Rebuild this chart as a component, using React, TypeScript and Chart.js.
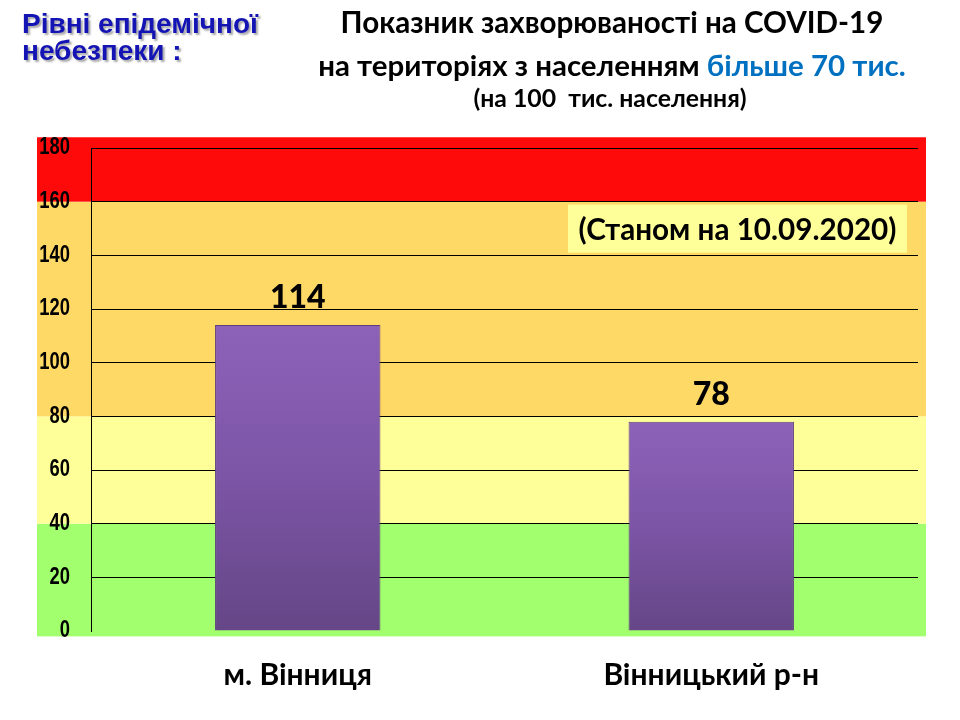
import { useEffect, useRef } from "react";
import { Chart, registerables } from "chart.js";

Chart.register(...registerables);

// ---- data ----
const categories = ["м. Вінниця", "Вінницький р-н"];
const incidence = [114, 78];
const yMin = 0;
const yMax = 180;
const yStep = 20;

// epidemic danger zones (value ranges) and colours
const zoneFrom = [-2, 40, 80, 160];
const zoneTo = [40, 80, 160, 184];
const zoneColors = ["#a2ff6e", "#ffff9a", "#ffd966", "#ff0a0a"];

const legendLines = ["Рівні епідемічної", "небезпеки :"];
const titleLine1 = "Показник захворюваності на COVID-19";
const titleLine2a = "на територіях з населенням ";
const titleLine2b = "більше 70 тис.";
const titleLine3 = "(на 100  тис. населення)";
const dateNote = "(Станом на 10.09.2020)";

const SANS = "Lato, 'Open Sans', 'Noto Sans', sans-serif";
const ARIAL = "'Liberation Sans', Arial, sans-serif";

function fitFont(ctx: CanvasRenderingContext2D, text: string, family: string, target: number) {
  ctx.font = `bold 100px ${family}`;
  const w = ctx.measureText(text).width;
  const size = (100 * target) / w;
  ctx.font = `bold ${size}px ${family}`;
  return size;
}

const zonesPlugin = {
  id: "zones",
  beforeDraw(chart: any) {
    const { ctx, chartArea, scales } = chart;
    const y = scales.y;
    ctx.save();
    ctx.fillStyle = "#ffffff";
    ctx.fillRect(0, 0, chart.width, chart.height);
    const left = chartArea.left - 54;
    const right = chartArea.right + 8;
    zoneFrom.forEach((f, i) => {
      const top = y.getPixelForValue(zoneTo[i]);
      const bot = y.getPixelForValue(f);
      ctx.fillStyle = zoneColors[i];
      ctx.fillRect(left, top, right - left, bot - top);
    });
    ctx.restore();
  },
};

const labelsPlugin = {
  id: "labels",
  afterDatasetsDraw(chart: any) {
    const { ctx, chartArea, scales } = chart;
    const y = scales.y;
    ctx.save();

    // y tick labels (condensed bold, like Arial Narrow)
    ctx.fillStyle = "#000";
    ctx.textAlign = "right";
    ctx.textBaseline = "middle";
    ctx.font = `bold 23px ${ARIAL}`;
    y.ticks.forEach((t: any) => {
      const py = y.getPixelForValue(t.value);
      ctx.save();
      ctx.translate(chartArea.left - 21, py);
      ctx.scale(0.8, 1);
      ctx.fillText(String(t.value), 0, 0);
      ctx.restore();
    });

    // value labels
    const meta = chart.getDatasetMeta(0);
    ctx.fillStyle = "#000";
    ctx.textAlign = "center";
    ctx.textBaseline = "alphabetic";
    ctx.font = `900 32px ${SANS}`;
    meta.data.forEach((bar: any, i: number) => {
      ctx.fillText(String(incidence[i]), bar.x, bar.y - 17);
    });

    // date note box
    const boxRight = chartArea.right - 11;
    const boxLeft = boxRight - 339;
    const boxTop = y.getPixelForValue(160) + 3;
    const boxH = 48;
    ctx.fillStyle = "#ffff99";
    ctx.fillRect(boxLeft, boxTop, boxRight - boxLeft, boxH);
    ctx.fillStyle = "#000";
    fitFont(ctx, dateNote, SANS, 318);
    ctx.fillText(dateNote, (boxLeft + boxRight) / 2, boxTop + 35);

    // top-left legend caption
    ctx.textAlign = "left";
    fitFont(ctx, legendLines[0], ARIAL, 236);
    ctx.shadowColor = "rgba(60,60,60,0.45)";
    ctx.shadowOffsetX = 2;
    ctx.shadowOffsetY = 2;
    ctx.shadowBlur = 2;
    ctx.fillStyle = "#1414b4";
    ctx.fillText(legendLines[0], 22, 33);
    ctx.fillText(legendLines[1], 22, 60);
    ctx.shadowColor = "transparent";
    ctx.shadowOffsetX = 0;
    ctx.shadowOffsetY = 0;
    ctx.shadowBlur = 0;

    // title
    const cx = 612;
    ctx.textAlign = "center";
    ctx.fillStyle = "#000";
    fitFont(ctx, titleLine1, SANS, 543);
    ctx.fillText(titleLine1, cx, 33);

    fitFont(ctx, titleLine2a + titleLine2b, SANS, 588);
    const wa = ctx.measureText(titleLine2a).width;
    const wb = ctx.measureText(titleLine2b).width;
    const start = cx - (wa + wb) / 2;
    ctx.textAlign = "left";
    ctx.fillStyle = "#000";
    ctx.fillText(titleLine2a, start, 76);
    ctx.fillStyle = "#0070c0";
    ctx.fillText(titleLine2b, start + wa, 76);

    ctx.textAlign = "center";
    ctx.fillStyle = "#000";
    fitFont(ctx, titleLine3, SANS, 273);
    ctx.fillText(titleLine3, cx - 2, 107);
    ctx.restore();
  },
};

export default function App() {
  const ref = useRef<HTMLCanvasElement | null>(null);

  useEffect(() => {
    document.body.style.margin = "0";
    if (!ref.current) return;
    const chart = new Chart(ref.current, {
      type: "bar",
      data: {
        labels: categories,
        datasets: [
          {
            data: incidence,
            backgroundColor: (c: any) => {
              const ch = c.chart;
              const y = ch.scales?.y;
              if (!ch.chartArea || !y || c.raw == null) return "#7a55a6";
              const top = y.getPixelForValue(c.raw);
              const bot = y.getPixelForValue(0);
              const g = ch.ctx.createLinearGradient(0, top, 0, bot);
              g.addColorStop(0, "#8c62b9");
              g.addColorStop(0.5, "#7c55a6");
              g.addColorStop(1, "#654686");
              return g;
            },
            borderColor: "#5c3f80",
            borderWidth: 1,
            barPercentage: 0.4,
            categoryPercentage: 1,
          },
        ],
      },
      options: {
        responsive: false,
        animation: false,
        layout: { padding: { left: 40, top: 148, right: 42, bottom: 0 } },
        plugins: {
          legend: { display: false },
          tooltip: { enabled: false },
          title: { display: false },
        },
        scales: {
          x: {
            grid: { display: false },
            border: { display: false },
            ticks: {
              color: "#000",
              padding: 18,
              font: { family: SANS, size: 30, weight: "bold" },
            },
            afterFit: (s: any) => {
              s.height = 89;
            },
          },
          y: {
            min: yMin,
            max: yMax,
            ticks: {
              stepSize: yStep,
              color: "rgba(0,0,0,0)",
              padding: 21,
              font: { family: ARIAL, size: 18, weight: "bold" },
            },
            grid: {
              drawTicks: false,
              color: (c: any) => (c.tick && c.tick.value === 0 ? "rgba(0,0,0,0)" : "#000"),
              lineWidth: 1,
            },
            border: { display: true, color: "#000", width: 1 },
            afterFit: (s: any) => {
              s.width = 51;
            },
          },
        },
      },
      plugins: [zonesPlugin, labelsPlugin],
    });
    return () => chart.destroy();
  }, []);

  return (
    <div style={{ width: 960, height: 720 }}>
      <canvas ref={ref} width={960} height={720} style={{ width: 960, height: 720, display: "block" }} />
    </div>
  );
}
